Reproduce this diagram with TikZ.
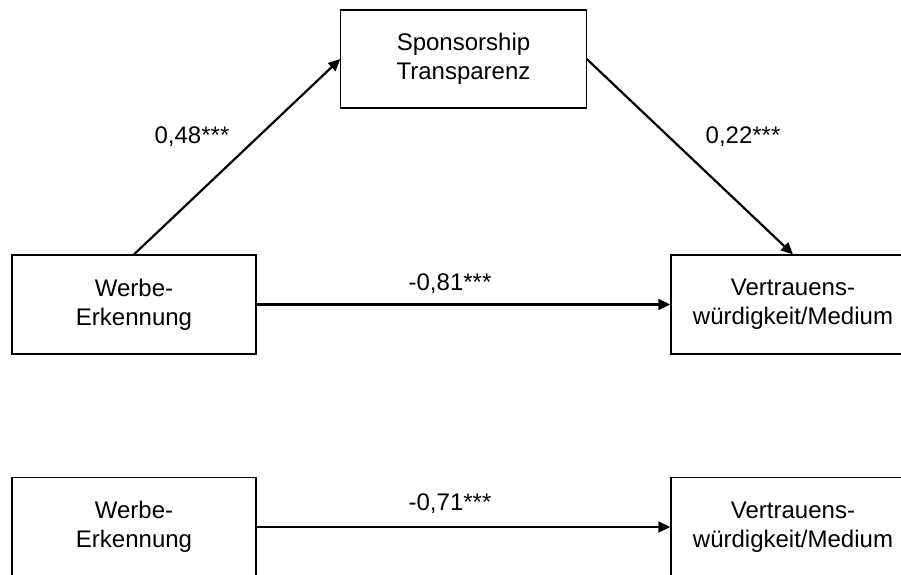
\documentclass[tikz,border=0pt]{standalone}
\usepackage{fontspec}
\setmainfont{Liberation Sans}
\usepackage{tikz}
\usetikzlibrary{arrows.meta,positioning}
\tikzset{
  block/.style={draw=black, fill=white, line width=0.6pt, minimum width=4.29cm,
                minimum height=1.74cm, align=center, inner sep=3pt,
                font=\fontsize{12}{14.5}\selectfont},
  arrow/.style={-{Triangle[length=2.1mm,width=1.9mm]}, line width=1.1pt, draw=black},
  coef/.style={font=\fontsize{12}{14}\selectfont, inner sep=1pt}
}
\begin{document}
\begin{tikzpicture}[x=1cm,y=1cm]
  \useasboundingbox (0,0) rectangle (15.833,10.087);
  % mediation model
  \node[block,minimum width=4.31cm,minimum height=1.72cm] (sponsor) at (8.145,9.050) {Sponsorship\\Transparenz};
  \node[block] (werbe) at (2.355,4.736) {Werbe-\\Erkennung};
  \node[block] (vertrauen) at (13.935,4.736) {Vertrauens-\\würdigkeit/Medium};
  \draw[arrow] (werbe.north) -- (sponsor.west);
  \draw[arrow] (sponsor.east) -- (vertrauen.north);
  \draw[arrow] (werbe.east) -- (vertrauen.west);
  \node[coef] (a) at (3.374,7.679) {0,48***};
  \node[coef] (b) at (13.057,7.679) {0,22***};
  \node[coef] (c) at (7.908,5.096) {-0,81***};
  % total effect
  \node[block] (werbetot) at (2.355,0.826) {Werbe-\\Erkennung};
  \node[block] (vertrauentot) at (13.935,0.826) {Vertrauens-\\würdigkeit/Medium};
  \draw[arrow] (werbetot.east) -- (vertrauentot.west);
  \node[coef] (ctot) at (7.908,1.230) {-0,71***};
\end{tikzpicture}
\end{document}
